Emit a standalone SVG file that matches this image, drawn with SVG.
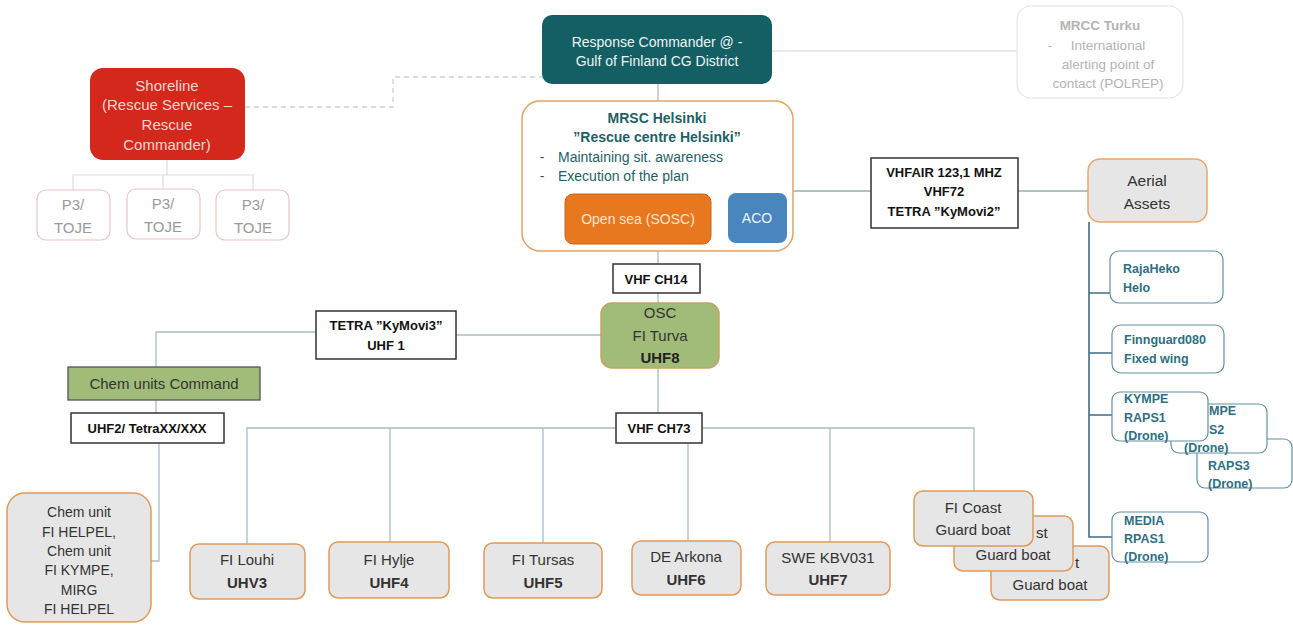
<svg xmlns="http://www.w3.org/2000/svg" width="1293" height="625" viewBox="0 0 1293 625">
<style>
text{font-family:"Liberation Sans",Arial,sans-serif;font-size:14px;text-anchor:middle;fill:#333}
.b{font-weight:bold}
.lab rect{fill:#fff;stroke:#333;stroke-width:1.5}
.lab text{font-weight:bold;fill:#111;font-size:13px}
.boat rect{fill:#e6e6e6;stroke:#e09a5c;stroke-width:1.5}
.boat text{font-size:15px;fill:#333}
.air rect{fill:#fff;stroke:#5f8fa3;stroke-width:1.2}
.air text{font-weight:bold;fill:#2e6f82;font-size:12.5px;text-anchor:start}
.p3 rect{fill:#fff;stroke:#e8c4c4;stroke-width:1.2}
.p3 text{fill:#9a9a9a;font-size:15px}
.sh{fill:#f6d6d0;font-size:15px}
.mr{fill:#b4b4b4;font-size:13.5px}
.ms{fill:#1f5f66}
.c{fill:none;stroke:#a7bfc2;stroke-width:1.3}
</style>
<rect width="1293" height="625" fill="#fff"/>
<g id="connectors">
<path d="M245,107 H393 V77 H542" fill="none" stroke="#cfcfcf" stroke-width="1.3" stroke-dasharray="5,4"/>
<path d="M167,160 V175 M73,190 V175 H253 V190 M163,175 V189" fill="none" stroke="#dcdcdc" stroke-width="1.2"/>
<path d="M772,51 H1017" fill="none" stroke="#d6d6d6" stroke-width="1.2"/>
<path class="c" d="M658,84 V101"/>
<path d="M793,191 H871 M1018,191 H1088" fill="none" stroke="#5a8a8e" stroke-width="1.2"/>
<path d="M1089,222 V537 H1112 M1089,293 H1110 M1089,353 H1112 M1089,415 H1112" fill="none" stroke="#3c6e86" stroke-width="1.6"/>
<path class="c" d="M658,251 V264 M658,293 V303 M658,368 V413"/>
<path class="c" d="M601,335 H456 M316,332 H156 V367 M156,400 V413 M159,443 V561 H151"/>
<path class="c" d="M247,544 V428 H616 M702,428 H974 V491 M390,428 V542 M543,428 V543 M688,443 V541 M830,428 V542"/>
</g>
<g id="shoreline">
<rect x="90" y="68" width="155" height="92" rx="13" fill="#d3281b"/>
<text x="167" y="91" class="sh">Shoreline</text>
<text x="167" y="110" class="sh">(Rescue Services –</text>
<text x="167" y="130" class="sh">Rescue</text>
<text x="167" y="150" class="sh">Commander)</text>
</g>
<g id="p3a" class="p3"><rect x="37" y="190" width="73" height="50" rx="9"/><text x="73" y="210">P3/</text><text x="73" y="233">TOJE</text></g>
<g id="p3b" class="p3"><rect x="127" y="189" width="73" height="50" rx="9"/><text x="163" y="209">P3/</text><text x="163" y="232">TOJE</text></g>
<g id="p3c" class="p3"><rect x="216" y="190" width="73" height="50" rx="9"/><text x="253" y="210">P3/</text><text x="253" y="233">TOJE</text></g>
<g id="response-commander">
<rect x="542" y="15" width="230" height="69" rx="10" fill="#145f64"/>
<text x="657" y="47" style="fill:#eef4f4">Response Commander @ -</text>
<text x="657" y="66" style="fill:#eef4f4">Gulf of Finland CG District</text>
</g>
<g id="mrcc-turku">
<rect x="1017" y="6" width="166" height="92" rx="14" fill="#fff" stroke="#e4e4e4" stroke-width="1.2"/>
<text x="1100" y="30" class="b mr">MRCC Turku</text>
<text x="1050" y="50" class="mr">-</text>
<text x="1108" y="50" class="mr">International</text>
<text x="1108" y="69" class="mr">alerting point of</text>
<text x="1108" y="88" class="mr">contact (POLREP)</text>
</g>
<g id="mrsc-helsinki">
<rect x="522" y="101" width="271" height="150" rx="18" fill="#fff" stroke="#e3a266" stroke-width="1.5"/>
<text x="657" y="123" class="b ms">MRSC Helsinki</text>
<text x="657" y="142" class="b ms">”Rescue centre Helsinki”</text>
<text x="542" y="162" class="ms">-</text>
<text x="558" y="162" class="ms" style="text-anchor:start">Maintaining sit. awareness</text>
<text x="542" y="181" class="ms">-</text>
<text x="558" y="181" class="ms" style="text-anchor:start">Execution of the plan</text>
</g>
<g id="open-sea">
<rect x="565" y="194" width="146" height="50" rx="8" fill="#e8781f" stroke="#c8641a" stroke-width="1"/>
<text x="638" y="224" style="fill:#fbe3cf">Open sea (SOSC)</text>
</g>
<g id="aco">
<rect x="728" y="193" width="59" height="50" rx="8" fill="#4a86be"/>
<text x="757" y="223" style="fill:#eef3f8">ACO</text>
</g>
<g id="vhfair" class="lab">
<rect x="871" y="158" width="147" height="70"/>
<text x="944" y="177">VHFAIR 123,1 MHZ</text>
<text x="944" y="196">VHF72</text>
<text x="944" y="216">TETRA  ”KyMovi2”</text>
</g>
<g id="aerial-assets">
<rect x="1088" y="159" width="119" height="63" rx="12" fill="#e6e6e6" stroke="#eba56b" stroke-width="1.5"/>
<text x="1147" y="186" style="font-size:15.5px">Aerial</text>
<text x="1147" y="209" style="font-size:15.5px">Assets</text>
</g>
<g id="rajaheko" class="air"><rect x="1110" y="251" width="113" height="52" rx="9"/><text x="1123" y="273">RajaHeko</text><text x="1123" y="292">Helo</text></g>
<g id="finnguard" class="air"><rect x="1112" y="325" width="112" height="48" rx="9"/><text x="1124" y="344">Finnguard080</text><text x="1124" y="363">Fixed wing</text></g>
<g id="raps3" class="air"><rect x="1197" y="439" width="95" height="49" rx="8"/><text x="1208" y="470">RAPS3</text><text x="1208" y="488">(Drone)</text></g>
<g id="raps2" class="air"><rect x="1171" y="404" width="96" height="49" rx="8"/><text x="1209" y="415">MPE</text><text x="1209" y="434">S2</text><text x="1184" y="452">(Drone)</text></g>
<g id="raps1" class="air"><rect x="1112" y="392" width="96" height="49" rx="8"/><text x="1124" y="403">KYMPE</text><text x="1124" y="422">RAPS1</text><text x="1124" y="440">(Drone)</text></g>
<g id="media" class="air"><rect x="1112" y="512" width="96" height="50" rx="8"/><text x="1124" y="525">MEDIA</text><text x="1124" y="543">RPAS1</text><text x="1124" y="561">(Drone)</text></g>
<g id="vhf-ch14" class="lab"><rect x="613" y="264" width="87" height="29"/><text x="656" y="284">VHF CH14</text></g>
<g id="osc">
<rect x="601" y="303" width="118" height="65" rx="11" fill="#a1bc79" stroke="#c9a164" stroke-width="1.5"/>
<text x="660" y="318" style="font-size:15px">OSC</text>
<text x="660" y="341" style="font-size:15px">FI Turva</text>
<text x="660" y="363" class="b" style="font-size:15px;fill:#222">UHF8</text>
</g>
<g id="tetra-kymovi3" class="lab"><rect x="316" y="311" width="140" height="48"/><text x="386" y="330">TETRA ”KyMovi3”</text><text x="386" y="350">UHF 1</text></g>
<g id="chem-command">
<rect x="68" y="367" width="192" height="33" fill="#a1bc79" stroke="#555" stroke-width="1.3"/>
<text x="164" y="389" style="font-size:15px">Chem units Command</text>
</g>
<g id="uhf2" class="lab"><rect x="71" y="413" width="153" height="30"/><text x="147" y="433">UHF2/ TetraXX/XXX</text></g>
<g id="vhf-ch73" class="lab"><rect x="616" y="413" width="86" height="30"/><text x="659" y="433">VHF CH73</text></g>
<g id="chem-unit" class="boat">
<rect x="7" y="493" width="144" height="129" rx="18"/>
<text x="79" y="517" style="font-size:14px">Chem unit</text>
<text x="79" y="537" style="font-size:14px">FI HELPEL,</text>
<text x="79" y="556" style="font-size:14px">Chem unit</text>
<text x="79" y="575" style="font-size:14px">FI KYMPE,</text>
<text x="79" y="595" style="font-size:14px">MIRG</text>
<text x="79" y="614" style="font-size:14px">FI HELPEL</text>
</g>
<g id="fi-louhi" class="boat"><rect x="190" y="544" width="115" height="55" rx="9"/><text x="247" y="565">FI Louhi</text><text x="247" y="588" class="b">UHV3</text></g>
<g id="fi-hylje" class="boat"><rect x="329" y="542" width="120" height="56" rx="9"/><text x="389" y="565">FI Hylje</text><text x="389" y="588" class="b">UHF4</text></g>
<g id="fi-tursas" class="boat"><rect x="484" y="543" width="118" height="55" rx="9"/><text x="543" y="565">FI Tursas</text><text x="543" y="588" class="b">UHF5</text></g>
<g id="de-arkona" class="boat"><rect x="632" y="541" width="109" height="54" rx="9"/><text x="686" y="562">DE Arkona</text><text x="686" y="585" class="b">UHF6</text></g>
<g id="swe-kbv031" class="boat"><rect x="766" y="542" width="124" height="53" rx="9"/><text x="828" y="563">SWE KBV031</text><text x="828" y="585" class="b">UHF7</text></g>
<g id="coast-3" class="boat"><rect x="991" y="546" width="118" height="54" rx="9"/><text x="1075" y="568" style="text-anchor:start">t</text><text x="1050" y="590">Guard boat</text></g>
<g id="coast-2" class="boat"><rect x="954" y="516" width="119" height="55" rx="9"/><text x="1036" y="538" style="text-anchor:start">st</text><text x="1013" y="560">Guard boat</text></g>
<g id="coast-1" class="boat"><rect x="914" y="491" width="119" height="55" rx="9"/><text x="973" y="513">FI Coast</text><text x="973" y="535">Guard boat</text></g>
</svg>
